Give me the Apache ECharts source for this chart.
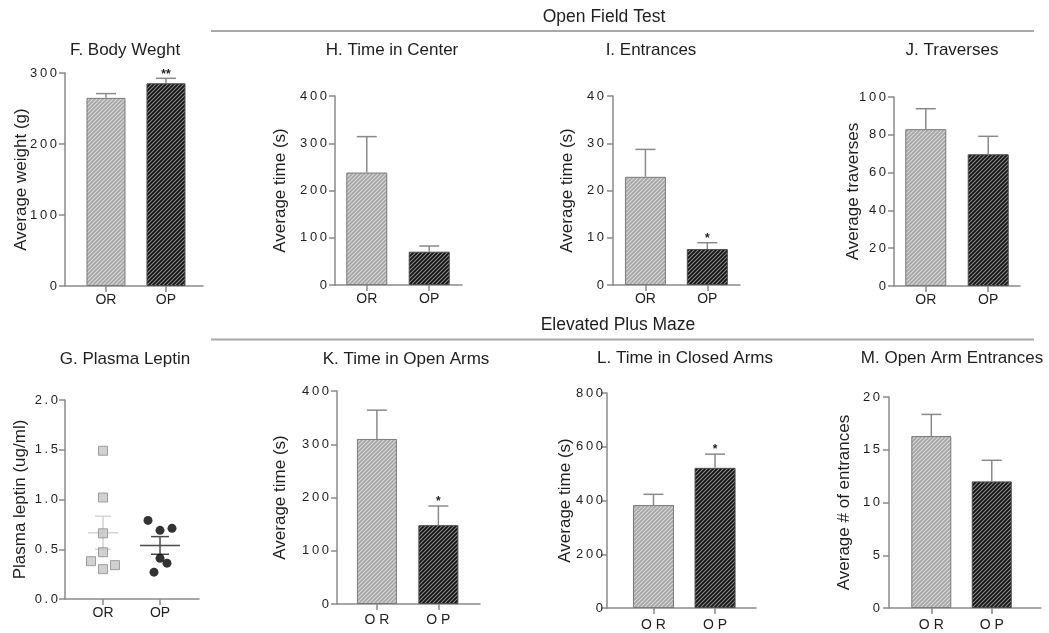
<!DOCTYPE html>
<html>
<head>
<meta charset="utf-8">
<title>Body weight, leptin and behaviour in OR and OP rats</title>
<script src="https://cdn.jsdelivr.net/npm/echarts@6/dist/echarts.min.js"></script>
<style>
  html, body { margin: 0; padding: 0; background: #fff; }
  #chart { width: 1049px; height: 633px; }
</style>
</head>
<body>
<div id="chart"></div>
<script>
// ---- data -------------------------------------------------------------
const groups = ['OR', 'OP'];
const groupsSpaced = ['O R', 'O P'];

// F. body weight (g), mean and SEM
const weightMean = [265, 285.5];
const weightSem = [6, 7];
const weightSig = ['', '**'];

// G. plasma leptin (ug/ml), individual animals
const leptinOR = [1.49, 1.02, 0.66, 0.47, 0.38, 0.30, 0.34];
const leptinOP = [0.79, 0.69, 0.71, 0.41, 0.36, 0.27];

// Open field test
const centerTimeMean = [238, 70.5];
const centerTimeSem = [76, 12];
const entrancesMean = [22.9, 7.6];
const entrancesSem = [5.8, 1.35];
const entrancesSig = ['', '*'];
const traversesMean = [83, 69.7];
const traversesSem = [10.8, 9.5];

// Elevated plus maze
const openArmTimeMean = [310, 148];
const openArmTimeSem = [54, 36];
const openArmTimeSig = ['', '*'];
const closedArmTimeMean = [383, 521.5];
const closedArmTimeSem = [40, 51];
const closedArmTimeSig = ['', '*'];
const openArmEntriesMean = [16.3, 12.0];
const openArmEntriesSem = [2.05, 2.0];

// ---- styling helpers ---------------------------------------------------
const FONT = "'Liberation Sans', Arial, Helvetica, sans-serif";
const AXIS_GREY = '#8a8a8a';
const TEXT = '#1e1e1e';

function hatch(bg, stripe) {
  const s = 4;
  const c = document.createElement('canvas');
  c.width = s; c.height = s;
  const ctx = c.getContext('2d');
  ctx.fillStyle = bg;
  ctx.fillRect(0, 0, s, s);
  ctx.strokeStyle = stripe;
  ctx.lineWidth = 1.1;
  ctx.beginPath();
  ctx.moveTo(0, s); ctx.lineTo(s, 0);
  ctx.moveTo(-1, 1); ctx.lineTo(1, -1);
  ctx.moveTo(s - 1, s + 1); ctx.lineTo(s + 1, s - 1);
  ctx.stroke();
  return { image: c, repeat: 'repeat' };
}
const barStyles = [
  { color: hatch('#a6a6a6', '#d8d8d8'), borderColor: '#7a7a7a', borderWidth: 1 },
  { color: hatch('#121212', '#8c8c8c'), borderColor: '#4a4a4a', borderWidth: 1 }
];

// spaced digits on the value axes
function spaced(str) { return String(str).split('').join('\u2009'); }

// ---- panel definitions -------------------------------------------------
const panels = [
  { key: 'F', title: 'F. Body Weght', tx: 125, ty: 50, yName: 'Average weight (g)',
    mean: weightMean, sem: weightSem, sig: weightSig, cats: groups,
    yMax: 300, yStep: 100,
    grid: { left: 65, top: 73, width: 138, height: 213 }, xMin: 0.317, xMax: 2.617, barWidth: 39,
    nameGap: 35, labelMargin: 7, yLabelMargin: 8 },
  { key: 'H', title: 'H. Time in Center', tx: 392, ty: 50, yName: 'Average time (s)',
    mean: centerTimeMean, sem: centerTimeSem, sig: ['', ''], cats: groups,
    yMax: 400, yStep: 100,
    grid: { left: 335, top: 96, width: 127, height: 189 }, xMin: 0.491, xMax: 2.525, barWidth: 41,
    nameGap: 46, labelMargin: 7, yLabelMargin: 8 },
  { key: 'I', title: 'I. Entrances', tx: 651, ty: 50, yName: 'Average time (s)',
    mean: entrancesMean, sem: entrancesSem, sig: entrancesSig, cats: groups,
    yMax: 40, yStep: 10,
    grid: { left: 613, top: 96, width: 127, height: 189 }, xMin: 0.476, xMax: 2.528, barWidth: 41,
    nameGap: 37, labelMargin: 7, yLabelMargin: 9 },
  { key: 'J', title: 'J. Traverses', tx: 952, ty: 50, yName: 'Average traverses',
    mean: traversesMean, sem: traversesSem, sig: ['', ''], cats: groups,
    yMax: 100, yStep: 20,
    grid: { left: 894, top: 97, width: 126, height: 189 }, xMin: 0.491, xMax: 2.509, barWidth: 41,
    nameGap: 32, labelMargin: 7, yLabelMargin: 8 },
  { key: 'K', title: 'K. Time in Open Arms', tx: 406, ty: 359, yName: 'Average time (s)',
    mean: openArmTimeMean, sem: openArmTimeSem, sig: openArmTimeSig, cats: groupsSpaced,
    yMax: 400, yStep: 100,
    grid: { left: 337, top: 391, width: 143, height: 213 }, xMin: 0.351, xMax: 2.677, barWidth: 40,
    nameGap: 48, labelMargin: 9, yLabelMargin: 8 },
  { key: 'L', title: 'L. Time in Closed Arms', tx: 685, ty: 358, yName: 'Average time (s)',
    mean: closedArmTimeMean, sem: closedArmTimeSem, sig: closedArmTimeSig, cats: groupsSpaced,
    yMax: 800, yStep: 200,
    grid: { left: 607, top: 393, width: 149, height: 215 }, xMin: 0.245, xMax: 2.665, barWidth: 41,
    nameGap: 33, labelMargin: 10, yLabelMargin: 4 },
  { key: 'M', title: 'M. Open Arm Entrances', tx: 952, ty: 358, yName: 'Average # of entrances',
    mean: openArmEntriesMean, sem: openArmEntriesSem, sig: ['', ''], cats: groupsSpaced,
    yMax: 20, yStep: 5,
    grid: { left: 889, top: 397, width: 152, height: 211 }, xMin: 0.300, xMax: 2.815, barWidth: 40,
    nameGap: 36, labelMargin: 10, yLabelMargin: 9 }
];

const leptinPanel = {
  title: 'G. Plasma Leptin', tx: 125, ty: 359, yName: 'Plasma leptin (ug/ml)',
  grid: { left: 65, top: 400, width: 134, height: 199 }, xMin: 0.333, xMax: 2.684,
  nameGap: 36, labelMargin: 7, yLabelMargin: 7
};

// horizontal jitter (px) of individual animals in panel G
const jitterOR = [0, 0, 0, 0, -12, 0, 12];
const jitterOP = [-12, 0, 12, 0, 7, -6];

// ---- option builders ---------------------------------------------------
const grids = [], xAxes = [], yAxes = [], series = [], graphics = [];

function addAxes(idx, p, cats, yMax, yStep, fmt) {
  grids.push(Object.assign({ containLabel: false }, p.grid));
  xAxes.push({
    gridIndex: idx, type: 'value', min: p.xMin, max: p.xMax,
    splitLine: { show: false },
    axisLine: { show: true, lineStyle: { color: AXIS_GREY, width: 1.5 } },
    axisTick: { show: true, customValues: [1, 2], length: 6, lineStyle: { color: AXIS_GREY, width: 1.5 } },
    axisLabel: { show: true, customValues: [1, 2], margin: p.labelMargin,
      formatter: v => cats[Math.round(v) - 1], color: TEXT, fontSize: 14, fontFamily: FONT }
  });
  yAxes.push({
    gridIndex: idx, type: 'value', min: 0, max: yMax, interval: yStep,
    name: p.yName, nameLocation: 'middle', nameGap: p.nameGap, nameRotate: 90,
    nameMoveOverlap: false,
    nameTextStyle: { color: TEXT, fontSize: 17, fontFamily: FONT },
    splitLine: { show: false },
    axisLine: { show: true, lineStyle: { color: AXIS_GREY, width: 1.5 } },
    axisTick: { show: true, length: 6, lineStyle: { color: AXIS_GREY, width: 1.5 } },
    axisLabel: { margin: p.yLabelMargin, color: TEXT, fontSize: 13, fontFamily: FONT,
      formatter: v => spaced(fmt ? fmt(v) : v) }
  });
  graphics.push({
    type: 'text', x: p.tx, y: p.ty,
    style: { text: p.title, fill: TEXT, font: '17px ' + FONT, textAlign: 'center', textVerticalAlign: 'middle' }
  });
}

panels.forEach((p, i) => {
  addAxes(i, p, p.cats, p.yMax, p.yStep);
  series.push({
    type: 'bar', xAxisIndex: i, yAxisIndex: i, barWidth: p.barWidth, z: 2,
    data: p.mean.map((m, j) => ({ value: [j + 1, m], itemStyle: barStyles[j] })),
    silent: true
  });
  const sig = p.sig;
  series.push({
    type: 'custom', xAxisIndex: i, yAxisIndex: i, z: 3, silent: true,
    data: p.mean.map((m, j) => [j + 1, m, p.sem[j]]),
    renderItem: (params, api) => {
      const x = api.value(0), m = api.value(1), e = api.value(2);
      const base = api.coord([x, m]);
      const top = api.coord([x, m + e]);
      const cap = 10;
      const ls = { stroke: AXIS_GREY, lineWidth: 1.5 };
      const children = [
        { type: 'line', shape: { x1: base[0], y1: base[1], x2: top[0], y2: top[1] }, style: ls },
        { type: 'line', shape: { x1: top[0] - cap, y1: top[1], x2: top[0] + cap, y2: top[1] }, style: ls }
      ];
      const s = sig[params.dataIndex];
      if (s) {
        children.push({ type: 'text', x: top[0], y: top[1] - 4,
          style: { text: s, fill: TEXT, font: 'bold 12px ' + FONT, textAlign: 'center', textVerticalAlign: 'middle' } });
      }
      return { type: 'group', children };
    }
  });
});

// panel G: individual values with mean ± SEM
const gi = panels.length;
addAxes(gi, leptinPanel, groups, 2, 0.5, v => v.toFixed(1));

function meanSem(arr) {
  const n = arr.length;
  const m = arr.reduce((a, b) => a + b, 0) / n;
  const sd = Math.sqrt(arr.reduce((a, b) => a + (b - m) * (b - m), 0) / (n - 1));
  return [m, sd / Math.sqrt(n)];
}
const statsOR = meanSem(leptinOR), statsOP = meanSem(leptinOP);
const summaryStyle = [
  { color: '#d4d4d4', half: 15, cap: 8 },
  { color: '#4a4a4a', half: 20, cap: 9 }
];
series.push({
  type: 'custom', xAxisIndex: gi, yAxisIndex: gi, z: 1, silent: true,
  data: [[1, statsOR[0], statsOR[1]], [2, statsOP[0], statsOP[1]]],
  renderItem: (params, api) => {
    const st = summaryStyle[params.dataIndex];
    const x = api.value(0), m = api.value(1), e = api.value(2);
    const c = api.coord([x, m]), hi = api.coord([x, m + e]), lo = api.coord([x, m - e]);
    const ls = { stroke: st.color, lineWidth: 1.5 };
    return { type: 'group', children: [
      { type: 'line', shape: { x1: c[0] - st.half, y1: c[1], x2: c[0] + st.half, y2: c[1] }, style: ls },
      { type: 'line', shape: { x1: hi[0], y1: hi[1], x2: lo[0], y2: lo[1] }, style: ls },
      { type: 'line', shape: { x1: hi[0] - st.cap, y1: hi[1], x2: hi[0] + st.cap, y2: hi[1] }, style: ls },
      { type: 'line', shape: { x1: lo[0] - st.cap, y1: lo[1], x2: lo[0] + st.cap, y2: lo[1] }, style: ls }
    ] };
  }
});
series.push({
  type: 'scatter', xAxisIndex: gi, yAxisIndex: gi, z: 2, silent: true,
  symbol: 'rect', symbolSize: 9,
  itemStyle: { color: '#c6c6c6', borderColor: '#8a8a8a', borderWidth: 1 },
  data: leptinOR.map((v, j) => ({ value: [1, v], symbolOffset: [jitterOR[j], 0] }))
});
series.push({
  type: 'scatter', xAxisIndex: gi, yAxisIndex: gi, z: 2, silent: true,
  symbol: 'circle', symbolSize: 9,
  itemStyle: { color: '#000' },
  data: leptinOP.map((v, j) => ({ value: [2, v], symbolOffset: [jitterOP[j], 0] }))
});

// section headers with rules
[
  { text: 'Open Field Test', x: 604, y: 17, ruleY: 31 },
  { text: 'Elevated Plus Maze', x: 618, y: 325, ruleY: 339.5 }
].forEach(h => {
  graphics.push({ type: 'text', x: h.x, y: h.y,
    style: { text: h.text, fill: TEXT, font: '17.5px ' + FONT, textAlign: 'center', textVerticalAlign: 'middle' } });
  graphics.push({ type: 'line', shape: { x1: 211, y1: h.ruleY, x2: 1034, y2: h.ruleY },
    style: { stroke: '#a8a8a8', lineWidth: 2 } });
});

const chart = echarts.init(document.getElementById('chart'), null, { renderer: 'canvas' });
chart.setOption({
  animation: false,
  backgroundColor: '#fff',
  textStyle: { fontFamily: FONT },
  grid: grids, xAxis: xAxes, yAxis: yAxes, series, graphic: graphics
});
</script>
</body>
</html>
